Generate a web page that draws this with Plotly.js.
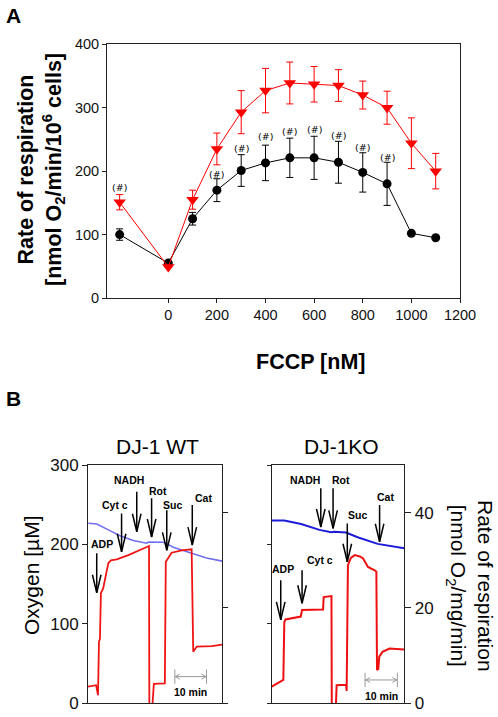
<!DOCTYPE html>
<html>
<head>
<meta charset="utf-8">
<script src="https://cdn.plot.ly/plotly-3.0.1.min.js"></script>
<style>html,body{margin:0;padding:0;background:#fff;}#chart{width:498px;height:717px;}</style>
</head>
<body>
<div id="chart"></div>
<script>
// ---------- Panel A data ----------
const fccp = [-200, 0, 100, 200, 300, 400, 500, 600, 700, 800, 900, 1000, 1100];
const fccpTicks = [0, 200, 400, 600, 800, 1000, 1200];
const blackRate = [100, 55, 125, 170, 201, 213, 221, 221, 214, 198, 180, 102, 95];
const blackErr  = [9, 0, 10, 18, 25, 28, 31, 34, 33, 31, 34, 0, 0];
const redRate   = [151, 49, 155, 235, 293, 327, 339, 337, 335, 320, 300, 244, 200];
const redErr    = [12, 0, 15, 25, 34, 35, 33, 28, 25, 22, 26, 40, 28];
const hashX = [-200, 200, 300, 400, 500, 600, 700, 800, 900];
const hashY = [174, 195, 235, 254, 262, 266, 257, 238, 222];

// ---------- Panel B data (time in min) ----------
const wtO2Time = [0.1, 2.7, 6.8, 9.9, 14.0, 18.2, 18.7, 23.3, 24.4, 26.4, 29.5, 32.6, 36.7, 41.6];
const wtO2     = [226.6, 225.7, 217.4, 211, 205, 201.5, 203, 202.8, 201, 196.5, 192.4, 188, 183, 179];
const wtRateTime = [0, 2.5, 3.1, 3.4, 3.7, 4.0, 4.7, 5.5, 6.3, 7.1, 8.9, 12.5, 15.6, 18.2, 18.9, 19.0, null,
                    20.0, 20.4, 23.8, 24.1, 25.9, 29.0, 32.1, 32.6, 33.7, 38.3, 41.6];
const wtRate     = [3.5, 3.8, 1.7, 12.9, 13.5, 23.1, 24.1, 26.9, 29.4, 30.0, 30.2, 31.1, 32.0, 32.7, 33.0, 0, null,
                    0, 4.1, 4.2, 29.7, 31.6, 32.1, 32.3, 10.8, 11.9, 12.0, 12.3];
const koO2Time = [0, 3.9, 9.1, 14.8, 18.4, 19.4, 23.0, 26.6, 32.8, 35.9, 41.05];
const koO2     = [230, 230, 225.8, 218.3, 215.3, 216, 215, 209, 200.7, 198.6, 195.3];
const koRateTime = [0, 2.0, 3.6, 3.9, 4.3, 9.0, 9.4, 15.9, 16.1, 18.5, 18.6, null,
                    19.9, 20.1, 23.0, 23.2, 23.6, 24.5, 25.7, 27.3, 28.3, 29.8, 31.9, 32.4, 32.6, 33.0, 33.3, 34.3, 36.5, 41.0];
const koRate     = [3.5, 4.2, 4.9, 17.0, 17.6, 18.2, 19.6, 19.7, 22.3, 22.5, 0, null,
                    0, 3.8, 3.9, 2.6, 29.0, 30.5, 31.1, 30.8, 30.4, 28.6, 27.9, 27.6, 7.0, 7.2, 9.8, 10.8, 11.5, 11.3];

// additions (arrows): label, arrow time, arrow tip / shaft top (rate units), label time, label y
const eventLabels = ['ADP', 'Cyt c', 'NADH', 'Rot', 'Suc', 'Cat'];
const wtEventTime  = [2.7, 10.4, 15.1, 19.7, 24.4, 32.3];
const wtArrowTip   = [23.2, 31.8, 36.0, 34.9, 32.1, 33.2];
const wtArrowTop   = [31.5, 39.8, 44.4, 43.0, 40.5, 41.6];
const wtLabelTime  = [4.2, 8.4, 12.7, 21.6, 26.1, 35.7];
const wtLabelY     = [33.5, 41.6, 46.8, 44.6, 41.6, 43.1];
const koEventTime  = [2.8, 9.4, 15.2, 19.0, 23.4, 33.4];
const koArrowTip   = [17.5, 21.0, 37.0, 36.7, 29.7, 33.9];
const koArrowTop   = [25.8, 27.9, 45.1, 45.1, 37.7, 41.6];
const koLabelTime  = [3.5, 14.9, 10.2, 21.6, 26.7, 35.2];
const koLabelY     = [28.2, 30.0, 46.8, 46.8, 39.5, 43.3];
// 10 min scale bars: [start, end] time, y (rate units)
const wtScale = [26.9, 36.7]; const wtScaleY = 5.6;
const koScale = [28.9, 38.9]; const koScaleY = 4.9;

const FONT = 'Liberation Sans, Arial, sans-serif';
const W = 498, H = 717;
const px = v => v / W, py = v => 1 - v / H;

const traces = [
  {x: fccp, y: blackRate, type: 'scatter', mode: 'lines+markers', xaxis: 'x', yaxis: 'y',
   line: {color: '#000', width: 1}, marker: {symbol: 'circle', size: 9, color: '#000'},
   error_y: {type: 'data', array: blackErr, visible: true, color: '#000', thickness: 1, width: 3.5}},
  {x: fccp, y: redRate, type: 'scatter', mode: 'lines+markers', xaxis: 'x', yaxis: 'y',
   line: {color: '#ff0000', width: 1}, marker: {symbol: 'triangle-down', size: 11, color: '#ff0000'},
   error_y: {type: 'data', array: redErr, visible: true, color: '#ff0000', thickness: 1, width: 3.5}},
  {x: wtO2Time, y: wtO2, type: 'scatter', mode: 'lines', xaxis: 'x2', yaxis: 'y2',
   line: {color: '#6f6ff0', width: 1.6}},
  {x: wtRateTime, y: wtRate, type: 'scatter', mode: 'lines', xaxis: 'x2', yaxis: 'y3',
   line: {color: '#f01414', width: 1.8}, connectgaps: false},
  {x: koO2Time, y: koO2, type: 'scatter', mode: 'lines', xaxis: 'x3', yaxis: 'y4',
   line: {color: '#1c1cd8', width: 2}},
  {x: koRateTime, y: koRate, type: 'scatter', mode: 'lines', xaxis: 'x3', yaxis: 'y5',
   line: {color: '#ee1010', width: 2}, connectgaps: false}
];

const tickFontA = {family: FONT, size: 14.5, color: '#111'};
const tickFontB = {family: FONT, size: 17, color: '#111'};
const axLine = {showline: true, linecolor: '#222', linewidth: 1, showgrid: false, zeroline: false};

const annotations = [];
const shapes = [];

// panel labels & titles
annotations.push({xref: 'paper', yref: 'paper', x: px(13), y: py(16), text: 'A', showarrow: false,
  font: {family: FONT, size: 21, weight: 'bold', color: '#000'}, xanchor: 'center', yanchor: 'middle'});
annotations.push({xref: 'paper', yref: 'paper', x: px(13), y: py(398), text: 'B', showarrow: false,
  font: {family: FONT, size: 21, weight: 'bold', color: '#000'}, xanchor: 'center', yanchor: 'middle'});
annotations.push({xref: 'paper', yref: 'paper', x: px(41), y: py(170),
  text: 'Rate of respiration<br>[nmol O<sub>2</sub>/min/10<sup>6</sup> cells]', textangle: -90, showarrow: false,
  font: {family: FONT, size: 21.5, weight: 'bold', color: '#000'}, xanchor: 'center', yanchor: 'middle'});
annotations.push({xref: 'paper', yref: 'paper', x: px(310), y: py(362), text: 'FCCP [nM]', showarrow: false,
  font: {family: FONT, size: 21.5, weight: 'bold', color: '#000'}, xanchor: 'center', yanchor: 'middle'});
annotations.push({xref: 'paper', yref: 'paper', x: px(157.5), y: py(446.5), text: 'DJ-1 WT', showarrow: false,
  font: {family: FONT, size: 21, color: '#000'}, xanchor: 'center', yanchor: 'middle'});
annotations.push({xref: 'paper', yref: 'paper', x: px(341.7), y: py(446.5), text: 'DJ-1KO', showarrow: false,
  font: {family: FONT, size: 21, color: '#000'}, xanchor: 'center', yanchor: 'middle'});
annotations.push({xref: 'paper', yref: 'paper', x: px(31), y: py(576), text: 'Oxygen [µM]', textangle: -90, showarrow: false,
  font: {family: FONT, size: 21, color: '#000'}, xanchor: 'center', yanchor: 'middle'});
annotations.push({xref: 'paper', yref: 'paper', x: px(470), y: py(586),
  text: 'Rate of respiration<br>[nmol O<sub>2</sub>/mg/min]', textangle: 90, showarrow: false,
  font: {family: FONT, size: 21, color: '#000'}, xanchor: 'center', yanchor: 'middle'});

// (#) markers
hashX.forEach((x, i) => annotations.push({xref: 'x', yref: 'y', x: x, y: hashY[i], text: '(#)', showarrow: false,
  font: {family: 'DejaVu Sans, sans-serif', size: 9.5, color: '#000'}, xanchor: 'center', yanchor: 'middle'}));

// event arrows
function addEvents(xr, yr, times, tips, tops, lt, ly) {
  eventLabels.forEach((lab, i) => {
    shapes.push({type: 'line', xref: xr, yref: yr, x0: times[i], x1: times[i], y0: tips[i], y1: tops[i],
      line: {color: '#000', width: 1.5}});
    shapes.push({type: 'path', xref: xr, yref: yr, xsizemode: 'pixel', ysizemode: 'pixel',
      xanchor: times[i], yanchor: tips[i], path: 'M-4.3,18 L0,0 L4.3,18',
      line: {color: '#000', width: 1.5}});
    annotations.push({xref: xr, yref: yr, x: lt[i], y: ly[i], text: lab, showarrow: false,
      font: {family: FONT, size: 10.5, weight: 'bold', color: '#000'}, xanchor: 'center', yanchor: 'middle'});
  });
}
addEvents('x2', 'y3', wtEventTime, wtArrowTip, wtArrowTop, wtLabelTime, wtLabelY);
addEvents('x3', 'y5', koEventTime, koArrowTip, koArrowTop, koLabelTime, koLabelY);

// 10 min scale bars (double-headed gray line with end ticks)
function addScale(xr, yr, sc, y) {
  shapes.push({type: 'line', xref: xr, yref: yr, x0: sc[0], x1: sc[1], y0: y, y1: y,
    line: {color: '#999', width: 1}});
  shapes.push({type: 'path', xref: xr, yref: yr, xsizemode: 'pixel', ysizemode: 'pixel',
    xanchor: sc[0], yanchor: y, path: 'M5,2.5 L0.5,0 L5,-2.5', line: {color: '#999', width: 1}});
  shapes.push({type: 'path', xref: xr, yref: yr, xsizemode: 'pixel', ysizemode: 'pixel',
    xanchor: sc[1], yanchor: y, path: 'M-5,2.5 L-0.5,0 L-5,-2.5', line: {color: '#999', width: 1}});
  [sc[0], sc[1]].forEach(t => shapes.push({type: 'line', xref: xr, yref: yr, x0: t, x1: t, y0: y - 1.5, y1: y + 1.5,
    line: {color: '#999', width: 1}}));
  annotations.push({xref: xr, yref: yr, x: (sc[0] + sc[1]) / 2, y: y - 3.3, text: '10 min', showarrow: false,
    font: {family: FONT, size: 10.5, weight: 'bold', color: '#000'}, xanchor: 'center', yanchor: 'middle'});
}
addScale('x2', 'y3', wtScale, wtScaleY);
addScale('x3', 'y5', koScale, koScaleY);

const domB = [py(703.3), py(465)];
const layout = {
  width: W, height: H, margin: {l: 0, r: 0, t: 0, b: 0}, showlegend: false,
  paper_bgcolor: '#fff', plot_bgcolor: 'rgba(0,0,0,0)',
  xaxis: Object.assign({}, axLine, {domain: [px(107), px(460)], range: [-252, 1200], tickvals: fccpTicks,
    ticks: 'outside', ticklen: 4, tickcolor: '#222', tickfont: tickFontA, mirror: true, anchor: 'y'}),
  yaxis: Object.assign({}, axLine, {domain: [py(298), py(44.3)], range: [0, 400], dtick: 100,
    ticks: 'outside', ticklen: 4, tickcolor: '#222', tickfont: tickFontA, mirror: true, anchor: 'x'}),
  xaxis2: Object.assign({}, axLine, {domain: [px(88), px(222.3)], range: [0, 41.6], showticklabels: false,
    ticks: '', mirror: true, anchor: 'y2'}),
  yaxis2: Object.assign({}, axLine, {domain: domB, range: [0, 300], dtick: 100, ticks: 'outside', ticklen: 5,
    tickcolor: '#222', tickfont: tickFontB, anchor: 'x2'}),
  yaxis3: Object.assign({}, axLine, {overlaying: 'y2', side: 'right', anchor: 'x2', range: [0, 50],
    tickvals: [0, 20, 40], showticklabels: false, ticks: 'outside', ticklen: 5, tickcolor: '#222'}),
  xaxis3: Object.assign({}, axLine, {domain: [px(271.7), px(404.3)], range: [0, 41.05], showticklabels: false,
    ticks: '', mirror: true, anchor: 'y4'}),
  yaxis4: Object.assign({}, axLine, {domain: domB, range: [0, 300], tickvals: [0, 100, 200, 300],
    showticklabels: false, ticks: 'outside', ticklen: 4, tickcolor: '#222', anchor: 'x3'}),
  yaxis5: Object.assign({}, axLine, {overlaying: 'y4', side: 'right', anchor: 'x3', range: [0, 50],
    tickvals: [0, 20, 40], ticks: 'outside', ticklen: 6, tickcolor: '#222', tickfont: tickFontB}),
  annotations: annotations,
  shapes: shapes
};

Plotly.newPlot('chart', traces, layout, {displayModeBar: false, staticPlot: true});
</script>
</body>
</html>
